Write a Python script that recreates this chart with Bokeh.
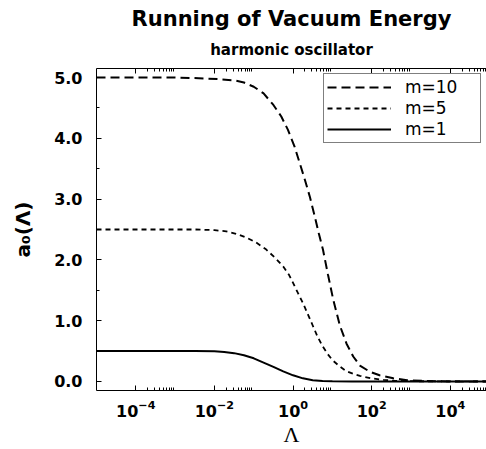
from bokeh.plotting import figure
from bokeh.models import (LogAxis, FixedTicker, SingleIntervalTicker, PrintfTickFormatter,
                          Legend, LegendItem, Title, Range1d, LogTickFormatter)
from bokeh.embed import file_html
from bokeh.resources import INLINE

# ---- data (log10 of Lambda, a0 value) ----
lg_m10 = [-5.0, -3.0, -2.4, -1.9, -1.5, -1.25, -1.0, -0.75, -0.5, -0.3, -0.13, 0.04, 0.17, 0.3,
          0.43, 0.55, 0.66, 0.76, 0.89, 1.02, 1.19, 1.36, 1.53, 1.7, 1.95, 2.2, 2.55, 2.9, 3.4, 4.0, 5.0]
a0_m10 = [5.0, 5.0, 4.99, 4.975, 4.955, 4.92, 4.85, 4.74, 4.55, 4.36, 4.14, 3.86, 3.59, 3.32,
          3.03, 2.72, 2.42, 2.17, 1.75, 1.35, 0.92, 0.62, 0.41, 0.26, 0.16, 0.10, 0.05, 0.02, 0.005, 0.0, 0.0]

lg_m5 = [-5.0, -2.5, -2.0, -1.7, -1.45, -1.2, -0.95, -0.7, -0.45, -0.25, -0.1, 0.0, 0.12, 0.25,
         0.38, 0.5, 0.62, 0.75, 0.88, 1.0, 1.18, 1.35, 1.55, 1.7, 2.0, 2.3, 2.6, 3.0, 4.0, 5.0]
a0_m5 = [2.5, 2.5, 2.49, 2.47, 2.43, 2.37, 2.29, 2.18, 2.03, 1.89, 1.75, 1.62, 1.46, 1.29,
         1.10, 0.92, 0.74, 0.58, 0.45, 0.35, 0.25, 0.17, 0.12, 0.09, 0.05, 0.025, 0.01, 0.003, 0.0, 0.0]

lg_m1 = [-5.0, -2.5, -2.0, -1.75, -1.5, -1.25, -1.0, -0.75, -0.5, -0.25, 0.0, 0.25, 0.5, 0.75,
         1.0, 1.5, 5.0]
a0_m1 = [0.5, 0.5, 0.495, 0.485, 0.465, 0.43, 0.38, 0.31, 0.24, 0.165, 0.10, 0.05, 0.02, 0.007,
         0.002, 0.0, 0.0]

series_labels = ["m=10", "m=5", "m=1"]
x_major_ticks = [1e-4, 1e-2, 1e0, 1e2, 1e4]
y_major_interval = 1.0

lam_m10 = [10 ** v for v in lg_m10]
lam_m5 = [10 ** v for v in lg_m5]
lam_m1 = [10 ** v for v in lg_m1]

x_minor_ticks = [k * t for t in x_major_ticks for k in range(2, 10)]

p = figure(width=486, height=449, x_axis_type="log", output_backend="svg", toolbar_location=None,
           x_range=Range1d(1e-5, 10 ** 4.92), y_range=Range1d(-0.15, 5.15),
           min_border_left=96, min_border_right=0, min_border_top=68, min_border_bottom=58,
           background_fill_color="white", border_fill_color="white")
p.title.text = ""
p.outline_line_color = None
p.xgrid.visible = False
p.ygrid.visible = False

tick_font = "DejaVu Sans"

# bottom x axis
xa = p.xaxis[0]
xa.ticker = FixedTicker(ticks=x_major_ticks, minor_ticks=x_minor_ticks)
xa.formatter = LogTickFormatter()
xa.major_tick_in = 5
xa.major_tick_out = 0
xa.minor_tick_in = 3
xa.minor_tick_out = 0
xa.major_label_text_font = tick_font
xa.major_label_text_font_style = "bold"
xa.major_label_text_font_size = "16px"
xa.major_label_text_color = "black"
xa.major_label_standoff = 9
xa.axis_label = "Λ"
xa.axis_label_text_font = "Liberation Serif"
xa.axis_label_text_font_style = "normal"
xa.axis_label_text_font_size = "22px"
xa.axis_label_text_color = "black"
xa.axis_label_standoff = 2
xa.axis_line_color = "black"
xa.major_tick_line_color = "black"
xa.minor_tick_line_color = "black"

# left y axis
ya = p.yaxis[0]
ya.ticker = SingleIntervalTicker(interval=y_major_interval, num_minor_ticks=2)
ya.formatter = PrintfTickFormatter(format="%.1f")
ya.major_tick_in = 5
ya.major_tick_out = 0
ya.minor_tick_in = 3
ya.minor_tick_out = 0
ya.major_label_text_font = tick_font
ya.major_label_text_font_style = "bold"
ya.major_label_text_font_size = "16px"
ya.major_label_text_color = "black"
ya.major_label_standoff = 14
ya.axis_label = "a₀(Λ)"
ya.axis_label_text_font = "DejaVu Sans"
ya.axis_label_text_font_style = "bold"
ya.axis_label_text_font_size = "20px"
ya.axis_label_text_color = "black"
ya.axis_label_standoff = 16
ya.axis_line_color = "black"

# top axis (ticks only)
top = LogAxis(ticker=FixedTicker(ticks=x_major_ticks, minor_ticks=x_minor_ticks),
              major_tick_in=5, major_tick_out=0, minor_tick_in=3, minor_tick_out=0,
              major_label_text_font_size="1px", major_label_text_color=None,
              major_label_standoff=0, axis_line_color="black")
p.add_layout(top, "above")

p.add_layout(Title(text="harmonic oscillator", align="center", text_font="DejaVu Sans",
                   text_font_style="bold", text_font_size="15px", text_color="black",
                   vertical_align="top", standoff=15), "above")
p.add_layout(Title(text="Running of Vacuum Energy", align="center", text_font="DejaVu Sans",
                   text_font_style="bold", text_font_size="21px", text_color="black",
                   vertical_align="top", standoff=2), "above")

r10 = p.line(lam_m10, a0_m10, line_color="black", line_width=2, line_dash="9 5")
r5 = p.line(lam_m5, a0_m5, line_color="black", line_width=1.8, line_dash="5 4")
r1 = p.line(lam_m1, a0_m1, line_color="black", line_width=2)

legend = Legend(items=[LegendItem(label=series_labels[0], renderers=[r10]),
                       LegendItem(label=series_labels[1], renderers=[r5]),
                       LegendItem(label=series_labels[2], renderers=[r1])],
                location="top_right", margin=5, padding=3, spacing=1,
                label_height=18, glyph_height=18, glyph_width=64, label_standoff=14,
                label_width=72, label_text_font="DejaVu Sans", label_text_font_size="17px",
                label_text_color="black",
                border_line_color="black", border_line_width=1, background_fill_alpha=1.0)
p.add_layout(legend)

open("out.html", "w").write(file_html(p, INLINE))
